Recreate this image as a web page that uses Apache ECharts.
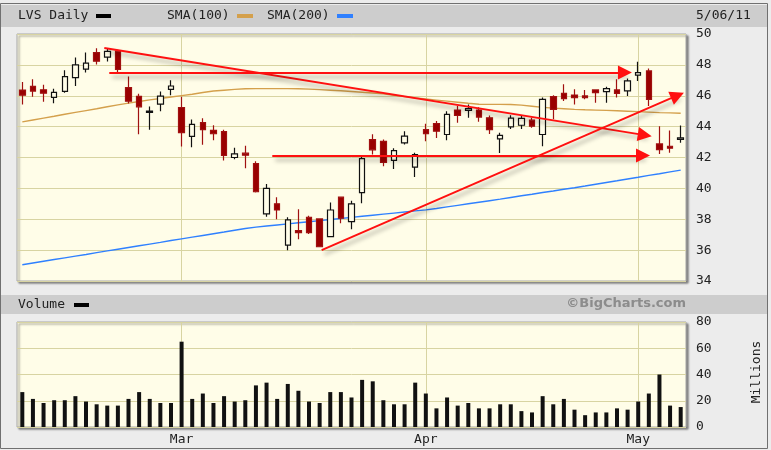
<!DOCTYPE html>
<html>
<head>
<meta charset="utf-8">
<script src="https://cdn.jsdelivr.net/npm/echarts@6/dist/echarts.min.js"></script>
<style>html,body{margin:0;padding:0;background:#ececec;}#c{width:771px;height:450px;}</style>
</head>
<body>
<div id="c"></div>
<script>
const dates = ['2/07','2/08','2/09','2/10','2/11','2/14','2/15','2/16','2/17','2/18','2/22','2/23','2/24','2/25','2/28',
 '3/01','3/02','3/03','3/04','3/07','3/08','3/09','3/10','3/11','3/14','3/15','3/16','3/17','3/18','3/21','3/22','3/23','3/24','3/25','3/28','3/29','3/30','3/31',
 '4/01','4/04','4/05','4/06','4/07','4/08','4/11','4/12','4/13','4/14','4/15','4/18','4/19','4/20','4/21','4/25','4/26','4/27','4/28','4/29',
 '5/02','5/03','5/04','5/05','5/06'];
const opens  = [46.37,46.61,46.39,45.89,46.28,47.17,47.72,48.80,48.50,48.89,46.52,45.96,44.92,45.46,46.41,
 45.24,43.37,44.26,43.76,43.67,42.00,42.28,41.60,38.35,39.00,36.33,37.26,38.13,38.02,36.87,39.43,37.85,39.73,43.16,43.05,41.82,42.95,41.38,
 43.81,44.20,43.49,45.07,45.05,45.07,44.57,43.21,43.99,44.09,44.42,43.49,45.94,46.16,46.05,45.99,46.38,46.27,46.38,46.31,
 47.33,47.61,42.88,42.73,43.18];
const closes = [46.04,46.30,46.17,46.22,47.24,48.00,48.11,48.24,48.87,47.70,45.65,45.28,45.00,45.98,46.63,
 43.61,44.15,43.80,43.54,42.13,42.24,42.15,39.78,40.00,38.60,37.96,37.13,37.13,36.22,38.60,38.07,39.00,41.93,42.50,41.69,42.45,43.38,42.19,
 43.55,43.70,44.79,44.72,45.16,44.62,43.80,43.43,44.55,44.53,44.03,45.77,45.12,45.81,45.88,45.88,46.20,46.46,46.16,46.96,
 47.50,45.77,42.51,42.60,43.27];
const lows   = [45.43,45.93,45.61,45.52,46.20,46.63,47.50,48.02,48.22,47.43,45.50,43.50,43.80,45.00,46.04,
 42.72,42.67,42.83,43.11,41.80,41.89,41.30,39.73,38.17,38.00,36.00,36.70,37.04,36.18,36.83,37.74,37.35,39.04,42.19,41.43,41.25,42.84,40.73,
 43.05,43.27,43.12,44.25,44.57,44.32,43.52,42.29,43.84,43.84,43.92,42.73,44.47,45.66,45.44,45.77,45.55,45.55,45.88,45.99,
 46.96,45.34,42.23,42.30,42.95];
const highs  = [46.89,47.07,46.72,46.46,47.65,48.48,48.80,49.07,49.07,48.98,47.24,46.13,45.30,46.28,47.00,
 45.93,44.46,44.54,44.09,43.80,42.63,42.76,41.75,40.28,39.43,38.13,38.65,38.22,38.07,39.08,39.47,39.20,42.08,43.50,43.16,42.60,43.70,42.30,
 44.18,44.36,45.00,45.33,45.44,45.25,44.72,43.60,44.73,44.73,44.58,45.88,46.03,46.74,46.42,46.38,46.38,46.59,47.07,47.11,
 48.20,47.76,44.03,43.75,44.07];
const sma100 = [44.31,44.43,44.55,44.67,44.80,44.92,45.04,45.16,45.29,45.41,45.52,45.63,45.73,45.82,45.92,
 46.01,46.10,46.21,46.31,46.36,46.41,46.45,46.46,46.46,46.46,46.46,46.45,46.43,46.40,46.36,46.32,46.28,46.23,46.18,46.12,46.03,45.94,45.86,
 45.79,45.72,45.65,45.58,45.51,45.45,45.44,45.44,45.43,45.39,45.32,45.25,45.20,45.16,45.12,45.09,45.07,45.05,45.03,45.00,
 44.97,44.94,44.91,44.89,44.87];
const sma200 = [35.05,35.17,35.28,35.39,35.50,35.61,35.72,35.84,35.95,36.06,36.17,36.28,36.39,36.50,36.62,
 36.73,36.84,36.95,37.06,37.17,37.29,37.40,37.49,37.56,37.63,37.70,37.77,37.84,37.91,37.98,38.05,38.12,38.19,38.26,38.33,38.40,38.47,38.54,
 38.61,38.70,38.80,38.90,39.00,39.10,39.20,39.30,39.41,39.52,39.62,39.73,39.83,39.94,40.04,40.15,40.27,40.38,40.49,40.61,
 40.72,40.84,40.95,41.07,41.18];
const volumes = [26.6,21.4,18.3,20.4,20.4,23.5,19.4,17.3,16.3,16.3,21.4,26.6,21.4,18.3,18.3,
 65,21.4,25.5,18.3,23.5,19.4,20.4,31.7,33.8,21.4,32.8,27.6,19.4,18.3,26.6,26.6,22.5,35.9,34.8,20.4,17.3,17.3,33.8,
 25.5,14.2,22.5,16.3,18.3,14.2,14.2,17.3,17.3,12.1,11.1,23.5,17.3,21.4,13.2,9.0,11.1,11.1,14.2,13.2,
 19.4,25.5,40,16.3,15.2];
const monthIdx = [15, 38, 58];
const monthNames = ['Mar', 'Apr', 'May'];
// annotation trend lines: [start [barIndex, price], end [barIndex, price]]
const trendLines = [
  [[7.72, 49.09], [58.62, 43.45]],
  [[8.19, 47.50], [56.75, 47.50]],
  [[23.54, 42.14], [58.45, 42.13]],
  [[28.19, 36.00], [61.70, 46.02]]
];

const FONT = 'DejaVu Sans Mono';
const gridColor = '#d8d4a2';
const plotBg = '#fffde8';
const candleData = dates.map((d, i) => [opens[i], closes[i], lows[i], highs[i]]);

const chart = echarts.init(document.getElementById('c'), null, {renderer: 'canvas'});
const labelStyle = {fontFamily: FONT, fontSize: 13, color: '#222'};

chart.setOption({
  backgroundColor: '#ececec',
  animation: false,
  graphic: [
    {type: 'rect', z: -10, shape: {x: 0.5, y: 3.5, width: 767, height: 445}, style: {fill: 'none', stroke: '#707070', lineWidth: 1}},
    {type: 'rect', z: -9, shape: {x: 1, y: 5, width: 766, height: 22}, style: {fill: '#cdcdcd'}},
    {type: 'rect', z: -9, shape: {x: 1, y: 295, width: 766, height: 19}, style: {fill: '#cdcdcd'}},
    {type: 'text', left: 18, top: 9, style: {text: 'LVS Daily', font: '13px "DejaVu Sans Mono"', fill: '#222'}},
    {type: 'rect', shape: {x: 96, y: 14, width: 15, height: 4}, style: {fill: '#000'}},
    {type: 'text', left: 167, top: 9, style: {text: 'SMA(100)', font: '13px "DejaVu Sans Mono"', fill: '#222'}},
    {type: 'rect', shape: {x: 237, y: 14, width: 16, height: 4}, style: {fill: '#d4a04c'}},
    {type: 'text', left: 267, top: 9, style: {text: 'SMA(200)', font: '13px "DejaVu Sans Mono"', fill: '#222'}},
    {type: 'rect', shape: {x: 337, y: 14, width: 16, height: 4}, style: {fill: '#2f80ff'}},
    {type: 'text', left: 696, top: 9, style: {text: '5/06/11', font: '13px "DejaVu Sans Mono"', fill: '#222'}},
    {type: 'text', left: 18, top: 298, style: {text: 'Volume', font: '13px "DejaVu Sans Mono"', fill: '#222'}},
    {type: 'rect', shape: {x: 74, y: 303, width: 15, height: 4}, style: {fill: '#000'}},
    {type: 'text', right: 85, top: 297, style: {text: '\u00A9BigCharts.com', font: 'bold 13px "DejaVu Sans"', fill: '#8c8c8c'}},
    {type: 'text', x: 757, y: 372, rotation: Math.PI / 2, style: {text: 'Millions', font: '13px "DejaVu Sans Mono"', fill: '#222', align: 'center', verticalAlign: 'middle'}}
  ],
  grid: [
    {left: 17, top: 34, width: 669, height: 247, show: true, backgroundColor: plotBg, borderColor: '#a8a8a8', borderWidth: 1,
     shadowColor: 'rgba(0,0,0,0.45)', shadowBlur: 2, shadowOffsetX: 2, shadowOffsetY: 2},
    {left: 17, top: 322, width: 669, height: 105, show: true, backgroundColor: plotBg, borderColor: '#a8a8a8', borderWidth: 1,
     shadowColor: 'rgba(0,0,0,0.45)', shadowBlur: 2, shadowOffsetX: 2, shadowOffsetY: 2}
  ],
  xAxis: [
    {type: 'category', gridIndex: 0, data: dates, boundaryGap: true, axisLine: {show: false}, axisTick: {show: false}, axisLabel: {show: false}, splitLine: {show: false}},
    {type: 'category', gridIndex: 1, data: dates, boundaryGap: true, axisLine: {show: false}, axisTick: {show: false}, splitLine: {show: false},
     axisLabel: Object.assign({margin: 6, interval: (i) => monthIdx.indexOf(i) >= 0, formatter: (v, i) => monthNames[monthIdx.indexOf(i)] || ''}, labelStyle)},
    {type: 'value', gridIndex: 0, min: -0.5, max: dates.length - 0.5, show: false}
  ],
  yAxis: [
    {type: 'value', gridIndex: 0, position: 'right', min: 34, max: 50, interval: 2, axisLine: {show: false}, axisTick: {show: false},
     axisLabel: Object.assign({margin: 10}, labelStyle), splitLine: {lineStyle: {color: gridColor, width: 1}}},
    {type: 'value', gridIndex: 1, position: 'right', min: 0, max: 80, interval: 20, axisLine: {show: false}, axisTick: {show: false},
     axisLabel: Object.assign({margin: 10}, labelStyle), splitLine: {lineStyle: {color: gridColor, width: 1}}}
  ],
  series: [
    {name: 'SMA(200)', type: 'line', xAxisIndex: 0, yAxisIndex: 0, data: sma200, symbol: 'none', z: 2,
     lineStyle: {color: '#2f80ff', width: 1.4},
     markLine: {silent: true, z: 1, symbol: 'none', label: {show: false}, lineStyle: {color: gridColor, type: 'solid', width: 1},
       data: monthIdx.map(i => ({xAxis: i}))}},
    {name: 'SMA(100)', type: 'line', xAxisIndex: 0, yAxisIndex: 0, data: sma100, symbol: 'none', z: 2,
     lineStyle: {color: '#d4a04c', width: 1.4}},
    {name: 'LVS Daily', type: 'candlestick', xAxisIndex: 0, yAxisIndex: 0, data: candleData, barWidth: 6, z: 3,
     itemStyle: {color: plotBg, color0: '#990000', borderColor: '#111', borderColor0: '#a01010', borderWidth: 1.2}},
    {name: 'Volume', type: 'bar', xAxisIndex: 1, yAxisIndex: 1, data: volumes, barWidth: 4, z: 3,
     itemStyle: {color: '#111'},
     markLine: {silent: true, z: 1, symbol: 'none', label: {show: false}, lineStyle: {color: gridColor, type: 'solid', width: 1},
       data: monthIdx.map(i => ({xAxis: i}))}},
    {name: 'trend', type: 'line', xAxisIndex: 2, yAxisIndex: 0, data: [[0, 34]], symbol: 'none', lineStyle: {opacity: 0}, z: 6,
     markLine: {silent: true, z: 6, symbol: ['none', 'triangle'], symbolSize: 14, label: {show: false},
       lineStyle: {color: '#ff1010', type: 'solid', width: 2, shadowColor: 'rgba(0,0,0,0.35)', shadowBlur: 4, shadowOffsetX: 3, shadowOffsetY: 4},
       itemStyle: {color: '#ff1010'},
       data: trendLines.map(t => [{coord: t[0]}, {coord: t[1]}])}}
  ]
});
</script>
</body>
</html>
